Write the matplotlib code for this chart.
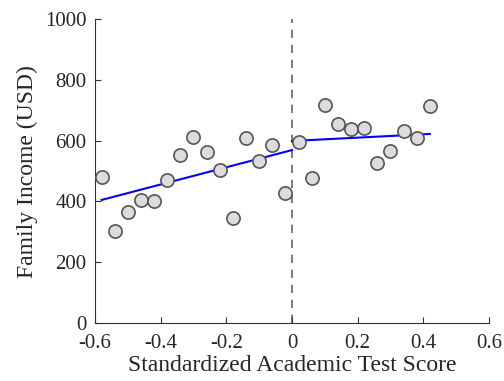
import numpy as np
import matplotlib
matplotlib.use("Agg")
import matplotlib.pyplot as plt

# binned test scores and mean family income
score = [-0.58, -0.54, -0.50, -0.46, -0.42, -0.38, -0.34, -0.30, -0.26, -0.22,
         -0.18, -0.14, -0.10, -0.06, -0.02, 0.02, 0.06, 0.10, 0.14, 0.18,
         0.22, 0.26, 0.30, 0.34, 0.38, 0.42]
income = [480, 303, 365, 405, 401, 470, 553, 613, 562, 503,
          345, 608, 533, 585, 428, 595, 477, 718, 656, 637,
          643, 526, 566, 633, 610, 715]

# fitted lines on each side of the cutoff
fit_left_x = [-0.58, 0.0]
fit_left_y = [405, 569]
fit_right_x = [0.0, 0.42]
fit_right_y = [599, 622]

plt.rcParams['font.family'] = ['Liberation Serif', 'DejaVu Serif']

fig = plt.figure(figsize=(5.04, 3.81), dpi=100)
ax = fig.add_axes([0.1885, 0.152, 0.7815, 0.798])

ax.axvline(0, color='#666666', linestyle='--', linewidth=1.2, dashes=(5, 4), zorder=1)
ax.plot(fit_left_x, fit_left_y, color='#0000ff', linewidth=1.5, zorder=2)
ax.plot(fit_right_x, fit_right_y, color='#0000ff', linewidth=1.5, zorder=2)
ax.plot(score, income, 'o', markersize=9.5, markerfacecolor='#dcdcdc',
        markeredgecolor='#555555', markeredgewidth=1.2, zorder=3)

ax.set_xlim(-0.6, 0.6)
ax.set_ylim(0, 1000)
ax.set_xticks([-0.6, -0.4, -0.2, 0, 0.2, 0.4, 0.6])
ax.set_xticklabels(['-0.6', '-0.4', '-0.2', '0', '0.2', '0.4', '0.6'])
ax.set_yticks([0, 200, 400, 600, 800, 1000])
ax.tick_params(direction='in', length=4, labelsize=15, colors='#333333',
               labelcolor='#262626')
ax.tick_params(axis='x', pad=8)
ax.tick_params(axis='y', pad=6)
for s in ['top', 'right']:
    ax.spines[s].set_visible(False)
for s in ['left', 'bottom']:
    ax.spines[s].set_color('#333333')
    ax.spines[s].set_linewidth(0.8)

ax.set_xlabel('Standardized Academic Test Score', fontsize=17, color='#262626', labelpad=1)
ax.set_ylabel('Family Income (USD)', fontsize=17, color='#262626', labelpad=5)

fig.savefig('out.png', dpi=100)
